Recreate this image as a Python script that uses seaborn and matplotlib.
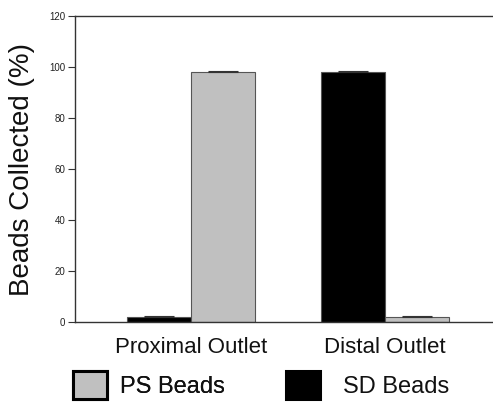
import matplotlib
matplotlib.use("Agg")
import matplotlib.pyplot as plt
import matplotlib.patches as mpatches
import seaborn as sns
import pandas as pd

categories = ["Proximal Outlet", "Distal Outlet"]
sd_values = [1.8, 98.0]
ps_values = [98.0, 1.8]
sd_err = [0.5, 0.5]
ps_err = [0.5, 0.6]
yticks = [0, 20, 40, 60, 80, 100, 120]

sns.set_theme(style="white")
plt.rcParams["font.family"] = ["Liberation Sans", "DejaVu Sans"]
plt.rcParams["text.color"] = "#111111"

df = pd.DataFrame({
    "Outlet": categories * 2,
    "Beads": ["SD Beads"] * 2 + ["PS Beads"] * 2,
    "Value": sd_values + ps_values,
    "Err": sd_err + ps_err,
})

fig = plt.figure(figsize=(4.93, 4.04), dpi=100)
ax = fig.add_axes([75 / 493, 82 / 404, 1 - 75 / 493, 306 / 404])

sns.barplot(data=df, x="Outlet", y="Value", hue="Beads",
            order=categories, hue_order=["SD Beads", "PS Beads"],
            palette={"SD Beads": "black", "PS Beads": "#C0C0C0"},
            width=0.66, edgecolor="#555555", linewidth=0.8,
            errorbar=None, legend=False, ax=ax)

# error bars at the bar centres
hues = ["SD Beads", "PS Beads"]
bars = [p for p in ax.patches if isinstance(p, mpatches.Rectangle)]
idx = 0
for h in hues:
    sub = df[df["Beads"] == h].set_index("Outlet").loc[categories]
    for cat in categories:
        p = bars[idx]
        idx += 1
        xc = p.get_x() + p.get_width() / 2
        ax.errorbar(xc, sub.loc[cat, "Value"], yerr=[[0], [sub.loc[cat, "Err"]]],
                    fmt="none", ecolor="#333333", elinewidth=0.8, capsize=11,
                    capthick=0.8)

ax.set_ylim(0, 120)
ax.set_xlim(-0.598, 1.557)
ax.set_yticks(yticks)
ax.set_yticklabels([str(t) for t in yticks], fontsize=7, color="#222222")
ax.tick_params(axis="y", which="both", left=True, direction="out", length=5,
               width=0.8, color="#333333", pad=2)
ax.tick_params(axis="x", bottom=False, labelsize=16, pad=5)
for lbl in ax.get_xticklabels():
    lbl.set_color("#111111")
ax.set_xlabel("")
ax.set_ylabel("Beads Collected (%)", fontsize=20, color="#111111", labelpad=10)
for s in ["left", "top", "bottom"]:
    ax.spines[s].set_visible(True)
    ax.spines[s].set_color("#333333")
    ax.spines[s].set_linewidth(1.0)
ax.spines["right"].set_visible(False)

ps_handle = mpatches.Patch(facecolor="#C0C0C0", edgecolor="black", linewidth=2.2)
sd_handle = mpatches.Patch(facecolor="black", edgecolor="black", linewidth=2.2)

leg1 = fig.legend([ps_handle], ["PS Beads"], loc="center left",
                  bbox_to_anchor=(73 / 493, 1 - 385 / 404), frameon=False,
                  fontsize=17, handlelength=1.44, handleheight=1.44,
                  handletextpad=0.55, borderpad=0, borderaxespad=0,
                  labelcolor="#111111")
fig.add_artist(leg1)
leg2 = fig.legend([sd_handle], ["SD Beads"], loc="center left",
                  bbox_to_anchor=(286 / 493, 1 - 385 / 404), frameon=False,
                  fontsize=17, handlelength=1.44, handleheight=1.44,
                  handletextpad=0.97, borderpad=0, borderaxespad=0,
                  labelcolor="#111111")

fig.savefig("out.png", dpi=100)
